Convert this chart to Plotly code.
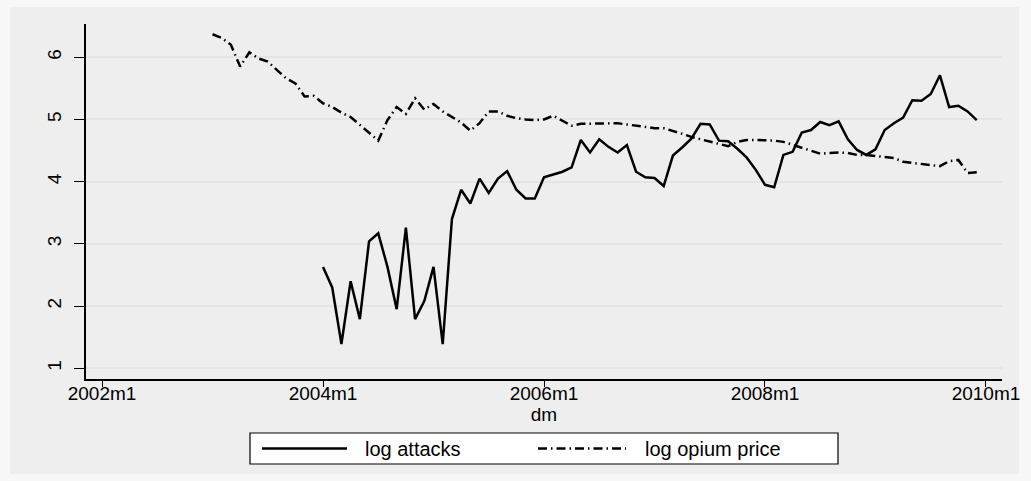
import plotly.graph_objects as go

# Stata monthly dates: dm = (year-1960)*12 + (month-1)
def tm(year, month):
    return (year - 1960) * 12 + (month - 1)

attacks_start = (2004, 1)
log_attacks = [2.63, 2.30, 1.39, 2.40, 1.79, 3.04, 3.17, 2.63, 1.95, 3.26, 1.79, 2.08,
               2.63, 1.39, 3.40, 3.87, 3.65, 4.05, 3.82, 4.05, 4.17, 3.87, 3.73, 3.73,
               4.07, 4.11, 4.16, 4.23, 4.67, 4.47, 4.68, 4.56, 4.47, 4.59, 4.16, 4.07,
               4.06, 3.93, 4.42, 4.55, 4.69, 4.93, 4.92, 4.66, 4.65, 4.53, 4.39, 4.19,
               3.95, 3.91, 4.43, 4.48, 4.79, 4.83, 4.96, 4.91, 4.97, 4.68, 4.51, 4.43,
               4.52, 4.83, 4.94, 5.03, 5.31, 5.30, 5.41, 5.71, 5.20, 5.22, 5.13, 4.99]

opium_start = (2003, 1)
log_opium = [6.37, 6.31, 6.20, 5.85, 6.08, 5.98, 5.93, 5.80, 5.66, 5.58, 5.37, 5.38,
             5.26, 5.20, 5.11, 5.04, 4.91, 4.79, 4.66, 4.99, 5.20, 5.09, 5.34, 5.16,
             5.25, 5.13, 5.04, 4.95, 4.82, 4.94, 5.13, 5.13, 5.06, 5.02, 5.00, 4.99,
             5.00, 5.06, 4.98, 4.90, 4.93, 4.93, 4.94, 4.94, 4.94, 4.92, 4.90, 4.87,
             4.86, 4.86, 4.82, 4.77, 4.72, 4.68, 4.64, 4.61, 4.57, 4.64, 4.67, 4.67,
             4.67, 4.66, 4.64, 4.59, 4.54, 4.50, 4.45, 4.46, 4.47, 4.46, 4.43, 4.43,
             4.41, 4.40, 4.38, 4.32, 4.30, 4.28, 4.27, 4.25, 4.33, 4.35, 4.14, 4.15]

series_names = ["log attacks", "log opium price"]
x_tick_years = [2002, 2004, 2006, 2008, 2010]
x_tick_labels = [f"{y}m1" for y in x_tick_years]
y_ticks = [1, 2, 3, 4, 5, 6]

x_att = [tm(*attacks_start) + i for i in range(len(log_attacks))]
x_op = [tm(*opium_start) + i for i in range(len(log_opium))]

FONT = "Liberation Sans, Arial, sans-serif"
DASHDOT = "9px,4px,1.5px,4px"
LW = 2.5
FS = 19

fig = go.Figure()
fig.add_trace(go.Scatter(x=x_att, y=log_attacks, mode="lines", name=series_names[0],
                         line=dict(color="black", width=LW)))
fig.add_trace(go.Scatter(x=x_op, y=log_opium, mode="lines", name=series_names[1],
                         line=dict(color="black", width=LW, dash=DASHDOT)))

# plot area in pixels: left 86, right 1002, top 24, bottom 379
PL, PR, PT, PB = 86, 1002, 24, 379
W, H = PR - PL, PB - PT
def px(x): return (x - PL) / W
def py(y): return (PB - y) / H

shapes = [
    # graph region (slightly darker than the outer border)
    dict(type="rect", xref="paper", yref="paper", x0=px(10), x1=px(1019), y0=py(474), y1=py(7),
         fillcolor="#eeeeee", line=dict(width=0), layer="below"),
    # legend box
    dict(type="rect", xref="paper", yref="paper", x0=px(250), x1=px(838), y0=py(464), y1=py(433),
         fillcolor="white", line=dict(color="black", width=1.2), layer="above"),
    # legend samples
    dict(type="line", xref="paper", yref="paper", x0=px(262), x1=px(347), y0=py(448.5), y1=py(448.5),
         line=dict(color="black", width=LW)),
    dict(type="line", xref="paper", yref="paper", x0=px(538), x1=px(626), y0=py(448.5), y1=py(448.5),
         line=dict(color="black", width=LW, dash=DASHDOT)),
]
annotations = [
    dict(text=series_names[0], xref="paper", yref="paper", x=px(363), y=py(448.5),
         xanchor="left", yanchor="middle", showarrow=False, font=dict(size=20)),
    dict(text=series_names[1], xref="paper", yref="paper", x=px(643), y=py(448.5),
         xanchor="left", yanchor="middle", showarrow=False, font=dict(size=20)),
]

x0 = tm(2002, 1)
x1 = tm(2010, 1)
fig.update_layout(
    width=1031, height=481,
    margin=dict(l=PL, r=1031 - PR, t=PT, b=481 - PB),
    paper_bgcolor="#f7f7f7",
    plot_bgcolor="white",
    font=dict(family=FONT, size=FS, color="black"),
    showlegend=False,
    shapes=shapes,
    annotations=annotations,
)
fig.update_xaxes(range=[x0 - 1.74, x1 + 1.74], tickvals=[tm(y, 1) for y in x_tick_years],
                 ticktext=x_tick_labels, showgrid=False, zeroline=False,
                 showline=True, linecolor="black", linewidth=1.5,
                 ticks="outside", ticklen=6, tickcolor="black", tickwidth=1,
                 tickfont=dict(size=FS), ticklabelstandoff=-10,
                 title=dict(text="dm", font=dict(size=FS), standoff=0))
fig.update_yaxes(range=[0.828, 6.535], tickvals=y_ticks, showgrid=True, gridcolor="#e4e4e4",
                 gridwidth=1.5, zeroline=False, showline=True, linecolor="black", linewidth=1.5,
                 ticks="outside", ticklen=10, tickcolor="black", tickwidth=1,
                 tickangle=-90, tickfont=dict(size=FS), ticklabelstandoff=6)

fig.write_html("out.html")
